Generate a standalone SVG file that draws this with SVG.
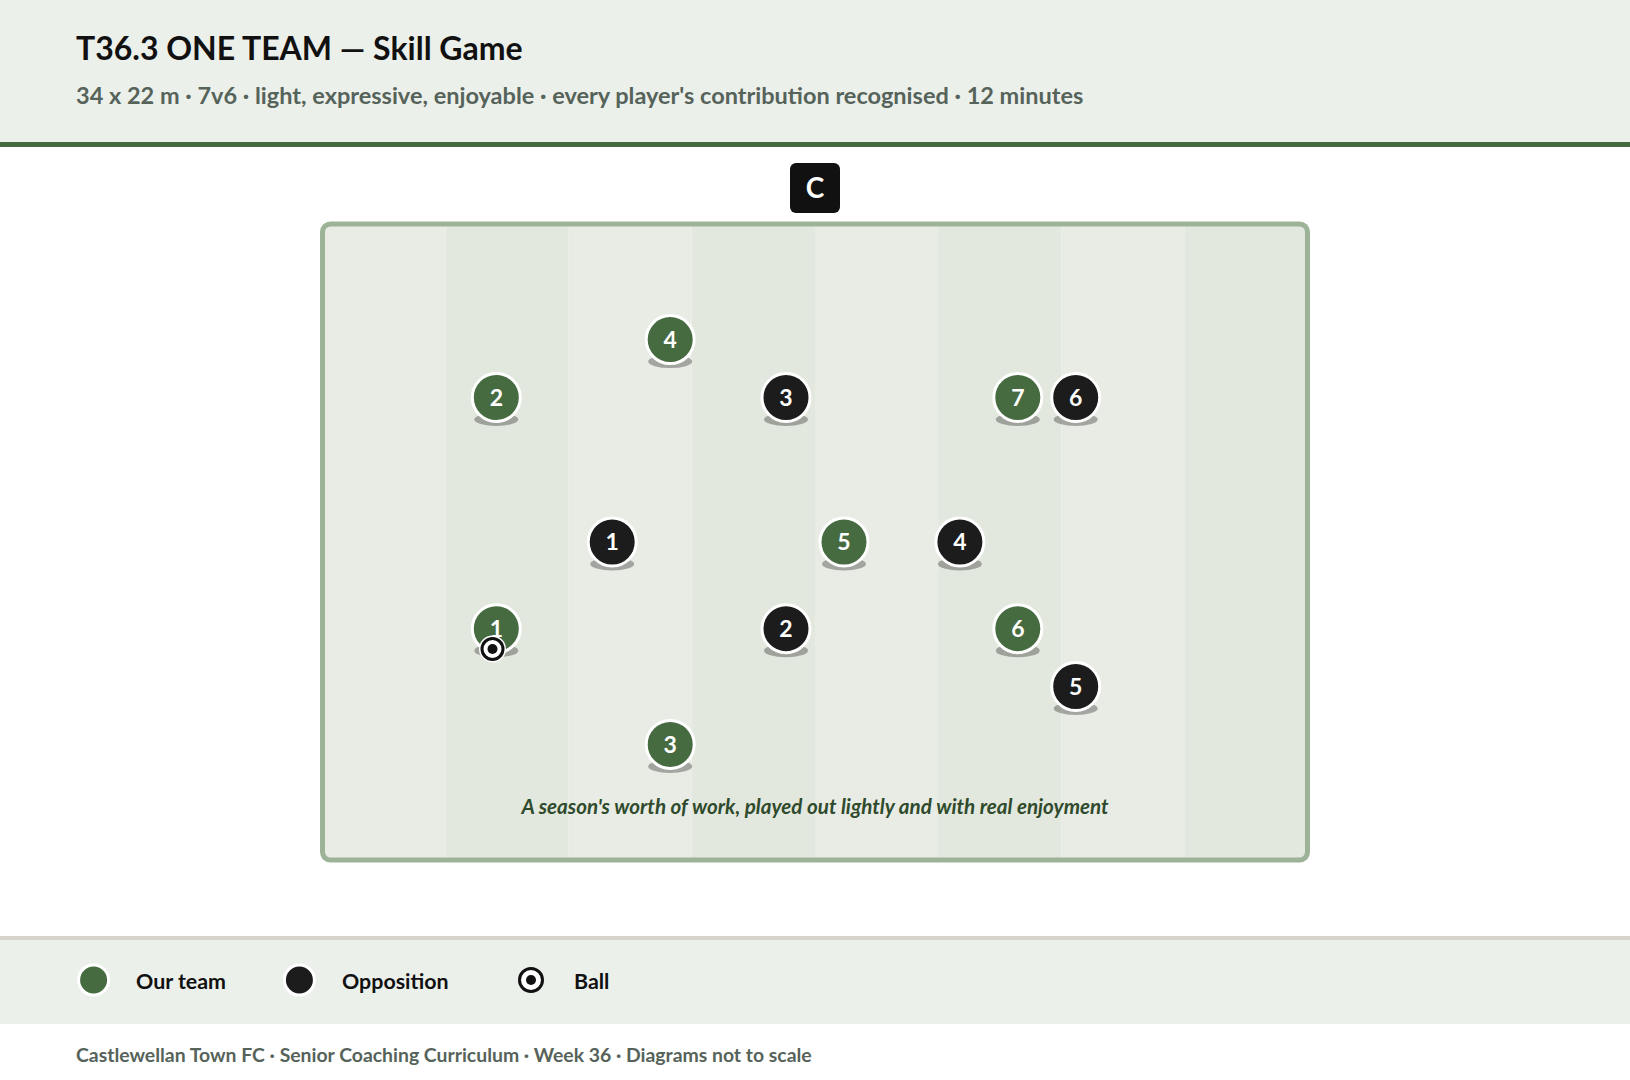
<svg xmlns="http://www.w3.org/2000/svg" width="1630" height="1080" viewBox="0 0 1630 1080">
<defs>
<style>
.hdr{fill:#ecf0eb}
.title{font-family:Lato,"Liberation Sans",sans-serif;font-weight:700;font-size:32px;fill:#111}
.sub{font-family:Lato,"Liberation Sans",sans-serif;font-weight:700;font-size:23.5px;fill:#56635a}
.stripeA{fill:#e8ece5}
.stripeB{fill:#e2e8de}
.pitch{fill:none;stroke:#9db398;stroke-width:5}
.shadow{fill:#000;opacity:0.3}
.us{fill:#476b41;stroke:#fff;stroke-width:3}
.them{fill:#1c1c1c;stroke:#fff;stroke-width:3}
.num{font-family:Lato,"Liberation Sans",sans-serif;font-weight:700;font-size:23px;fill:#fff;text-anchor:middle}
.cap{font-family:Lato,"Liberation Sans",sans-serif;font-weight:700;font-style:italic;font-size:20.6px;fill:#2f4a2c;text-anchor:middle}
.leg{font-family:Lato,"Liberation Sans",sans-serif;font-weight:700;font-size:21.4px;fill:#111}
.foot{font-family:Lato,"Liberation Sans",sans-serif;font-weight:700;font-size:19.4px;fill:#56635a}
</style>
<g id="shadowPl"><ellipse class="shadow" cx="0" cy="22" rx="22" ry="6.5"/></g>
</defs>
<rect width="1630" height="1080" fill="#fff"/>
<g id="header">
<rect class="hdr" x="0" y="0" width="1630" height="142"/>
<rect x="0" y="142" width="1630" height="5" fill="#476b41"/>
<text class="title" x="76" y="60">T36.3 ONE TEAM — Skill Game</text>
<text class="sub" x="76" y="104">34 x 22 m · 7v6 · light, expressive, enjoyable · every player's contribution recognised · 12 minutes</text>
</g>
<g id="coach">
<rect x="790" y="163" width="50" height="50" rx="6" fill="#111"/>
<text x="815" y="198" font-family="Lato,'Liberation Sans',sans-serif" font-weight="700" font-size="28" fill="#fff" text-anchor="middle">C</text>
</g>
<g id="pitch">
<rect class="stripeA" x="322.5" y="224" width="123.1" height="636"/>
<rect class="stripeB" x="445.6" y="224" width="123.1" height="636"/>
<rect class="stripeA" x="568.7" y="224" width="123.1" height="636"/>
<rect class="stripeB" x="691.8" y="224" width="123.2" height="636"/>
<rect class="stripeA" x="815" y="224" width="123.1" height="636"/>
<rect class="stripeB" x="938.1" y="224" width="123.1" height="636"/>
<rect class="stripeA" x="1061.2" y="224" width="123.1" height="636"/>
<rect class="stripeB" x="1184.3" y="224" width="123.2" height="636"/>
<rect class="pitch" x="322.5" y="224" width="985" height="636" rx="8"/>
<text class="cap" x="815" y="814">A season's worth of work, played out lightly and with real enjoyment</text>
</g>
<g id="connectors"></g>
<g id="us4"><use href="#shadowPl" x="670.2" y="339.6"/><circle class="us" cx="670.2" cy="339.6" r="24"/><text class="num" x="670.2" y="347.8">4</text></g>
<g id="us2"><use href="#shadowPl" x="496.3" y="397.5"/><circle class="us" cx="496.3" cy="397.5" r="24"/><text class="num" x="496.3" y="405.7">2</text></g>
<g id="us7"><use href="#shadowPl" x="1017.8" y="397.5"/><circle class="us" cx="1017.8" cy="397.5" r="24"/><text class="num" x="1017.8" y="405.7">7</text></g>
<g id="them6"><use href="#shadowPl" x="1075.7" y="397.5"/><circle class="them" cx="1075.7" cy="397.5" r="24"/><text class="num" x="1075.7" y="405.7">6</text></g>
<g id="them3"><use href="#shadowPl" x="786" y="397.5"/><circle class="them" cx="786" cy="397.5" r="24"/><text class="num" x="786" y="405.7">3</text></g>
<g id="them1"><use href="#shadowPl" x="612.2" y="542"/><circle class="them" cx="612.2" cy="542" r="24"/><text class="num" x="612.2" y="550.2">1</text></g>
<g id="us5"><use href="#shadowPl" x="844" y="542"/><circle class="us" cx="844" cy="542" r="24"/><text class="num" x="844" y="550.2">5</text></g>
<g id="them4"><use href="#shadowPl" x="959.9" y="542"/><circle class="them" cx="959.9" cy="542" r="24"/><text class="num" x="959.9" y="550.2">4</text></g>
<g id="us1"><use href="#shadowPl" x="496.3" y="628.7"/><circle class="us" cx="496.3" cy="628.7" r="24"/><text class="num" x="496.3" y="636.9">1</text></g>
<g id="them2"><use href="#shadowPl" x="786" y="628.7"/><circle class="them" cx="786" cy="628.7" r="24"/><text class="num" x="786" y="636.9">2</text></g>
<g id="us6"><use href="#shadowPl" x="1017.8" y="628.7"/><circle class="us" cx="1017.8" cy="628.7" r="24"/><text class="num" x="1017.8" y="636.9">6</text></g>
<g id="them5"><use href="#shadowPl" x="1075.7" y="686.5"/><circle class="them" cx="1075.7" cy="686.5" r="24"/><text class="num" x="1075.7" y="694.7">5</text></g>
<g id="us3"><use href="#shadowPl" x="670.2" y="744.4"/><circle class="us" cx="670.2" cy="744.4" r="24"/><text class="num" x="670.2" y="752.6">3</text></g>
<g id="ball"><circle cx="492.5" cy="649" r="13.5" fill="#fff"/><circle cx="492.5" cy="649" r="10.5" fill="#fff" stroke="#111" stroke-width="3"/><circle cx="492.5" cy="649" r="5" fill="#111"/></g>
<g id="legend">
<rect x="0" y="936" width="1630" height="4" fill="#d9d4cb"/>
<rect class="hdr" x="0" y="940" width="1630" height="84"/>
<circle cx="93.6" cy="980" r="15" fill="#476b41" stroke="#fff" stroke-width="3"/>
<text class="leg" x="136" y="989">Our team</text>
<circle cx="299.4" cy="980" r="15" fill="#1c1c1c" stroke="#fff" stroke-width="3"/>
<text class="leg" x="342" y="989">Opposition</text>
<circle cx="531" cy="980" r="11.5" fill="#fff" stroke="#111" stroke-width="3"/>
<circle cx="531" cy="980" r="5" fill="#111"/>
<text class="leg" x="574" y="989">Ball</text>
</g>
<g id="footer">
<text class="foot" x="76" y="1062">Castlewellan Town FC · Senior Coaching Curriculum · Week 36 · Diagrams not to scale</text>
</g>
</svg>
